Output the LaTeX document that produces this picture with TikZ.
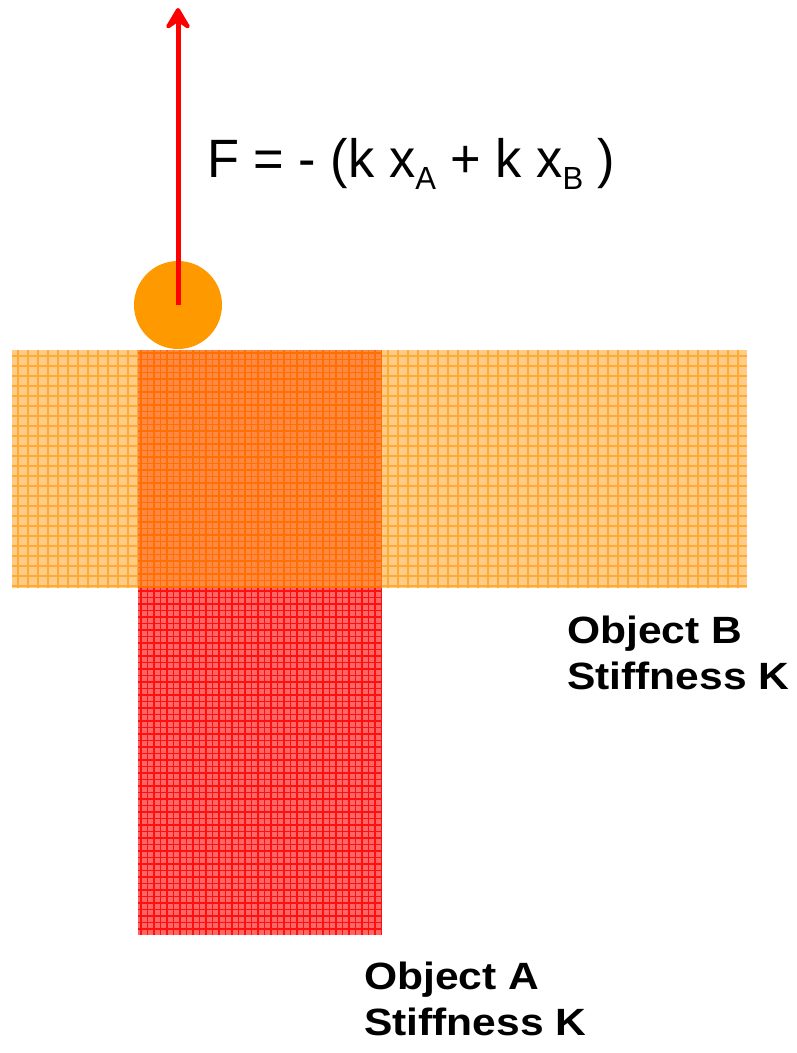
\documentclass[tikz,border=0pt]{standalone}
\usepackage{fontspec}
\setmainfont{Liberation Sans}
\usetikzlibrary{arrows.meta,positioning}
\definecolor{BallOrange}{HTML}{FF9900}
\definecolor{ForceRed}{HTML}{FF0000}
\definecolor{SoftFill}{HTML}{FFCC88}
\definecolor{SoftLine}{HTML}{FFAA33}
\definecolor{HardFill}{HTML}{FF6666}
\definecolor{HardLine}{HTML}{FF1010}
\definecolor{MixFill}{HTML}{FF8844}
\definecolor{MixLine}{HTML}{FF7000}
\begin{document}
\begin{tikzpicture}[
 x=1pt,y=-1pt,
 softgrid/.style={draw=SoftLine,line width=1.5pt},
 hardgrid/.style={draw=HardLine,line width=1.2pt},
 mixgrid/.style={draw=MixLine,line width=1.2pt},
 label/.style={font=\fontsize{38}{46}\selectfont\bfseries,align=left,inner sep=0pt,anchor=north west},
 force/.style={-{Stealth[length=27pt,width=32pt,inset=11pt,round]},draw=ForceRed,line width=5pt}
]
 \useasboundingbox (0,0) rectangle (796,1053);
 % object B, soft layer
 \fill[SoftFill] (12,350) rectangle (747,588);
 \foreach \x in {18,28,...,747} \draw[softgrid] (\x,350) -- (\x,588);
 \foreach \y in {356,366,...,588} \draw[softgrid] (12,\y) -- (747,\y);
 % object A, hard column
 \fill[HardFill] (138,588) rectangle (382,935);
 \foreach \x in {141,147.5,...,382} \draw[hardgrid] (\x,588) -- (\x,935);
 \foreach \y in {591,597.5,...,935} \draw[hardgrid] (138,\y) -- (382,\y);
 % overlap of A and B
 \fill[MixFill] (138,350) rectangle (382,588);
 \foreach \x in {141,147.5,...,382} \draw[mixgrid] (\x,350) -- (\x,588);
 \foreach \y in {353,359.5,...,588} \draw[mixgrid] (138,\y) -- (382,\y);
 % ball and force
 \fill[BallOrange] (178,305) circle[radius=44] coordinate (ball);
 \coordinate (tip) at (178,8);
 \draw[force] (ball) -- (tip);
 \node[anchor=base west,inner sep=0pt,font=\fontsize{54}{60}\selectfont] (formula) at (207,177)
   {\scalebox{0.97}[1]{F = - (k x\raisebox{-12pt}{\fontsize{32}{32}\selectfont A} + k x\raisebox{-12pt}{\fontsize{32}{32}\selectfont B} )}};
 \node[label] (labB) at (567,616)
   {\scalebox{1.12}[1]{Object B}\\\scalebox{1.12}[1]{Stiffness K}};
 \node[label] (labA) at (364,962)
   {\scalebox{1.12}[1]{Object A}\\\scalebox{1.12}[1]{Stiffness K}};
\end{tikzpicture}
\end{document}
